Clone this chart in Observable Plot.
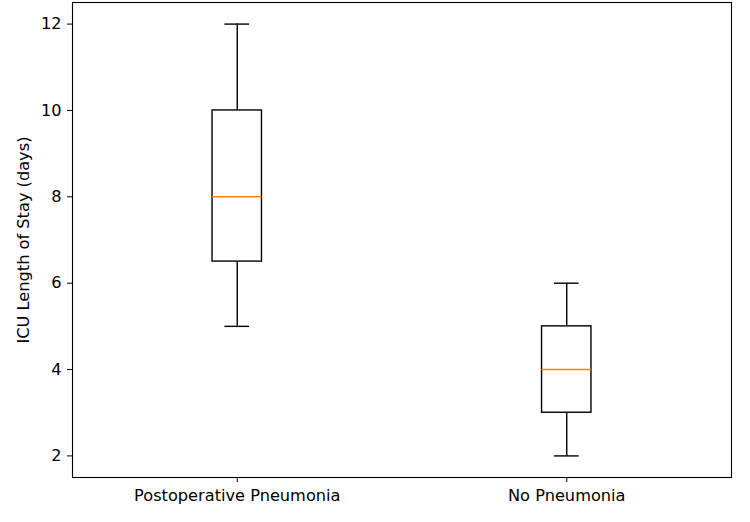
<!DOCTYPE html>
<html><head><meta charset="utf-8">
<script src="https://cdn.jsdelivr.net/npm/d3@7"></script>
<script src="https://cdn.jsdelivr.net/npm/@observablehq/plot@0.6"></script>
<style>body{margin:0;background:#fff;} svg{display:block;}</style>
</head><body><div id="chart"></div>
<script>
const categories = ["Postoperative Pneumonia", "No Pneumonia"];
const whiskerLow = [5, 2];
const q1 = [6.5, 3];
const median = [8, 4];
const q3 = [10, 5];
const whiskerHigh = [12, 6];
const yTicks = [2, 4, 6, 8, 10, 12];

const data = categories.map((c, i) => ({
  cat: c, pos: i + 1, lo: whiskerLow[i], q1: q1[i], med: median[i], q3: q3[i], hi: whiskerHigh[i]
}));
const bw = 0.075, cw = 0.0375;

const plot = Plot.plot({
  width: 750, height: 522,
  marginLeft: 72, marginRight: 19, marginTop: 2, marginBottom: 45,
  style: {fontFamily: "DejaVu Sans", fontSize: "16.2px", color: "#000", background: "#fff"},
  x: {domain: [0.5, 2.5]},
  y: {domain: [1.5, 12.5]},
  marks: [
    Plot.axisX({ticks: [1, 2], tickFormat: d => categories[d - 1], tickSize: 5, tickPadding: 7, label: null, fontSize: 16.2}),
    Plot.axisY({ticks: yTicks, tickSize: 5, tickPadding: 6, label: "ICU Length of Stay (days)", labelAnchor: "center", labelOffset: 55, labelArrow: "none", fontSize: 16.2}),
    Plot.ruleX(data, {x: "pos", y1: "lo", y2: "q1", stroke: "#000", strokeWidth: 1.4}),
    Plot.ruleX(data, {x: "pos", y1: "q3", y2: "hi", stroke: "#000", strokeWidth: 1.4}),
    Plot.ruleY(data, {y: "lo", x1: d => d.pos - cw, x2: d => d.pos + cw, stroke: "#000", strokeWidth: 1.4}),
    Plot.ruleY(data, {y: "hi", x1: d => d.pos - cw, x2: d => d.pos + cw, stroke: "#000", strokeWidth: 1.4}),
    Plot.rect(data, {x1: d => d.pos - bw, x2: d => d.pos + bw, y1: "q1", y2: "q3", fill: "none", stroke: "#000", strokeWidth: 1.4}),
    Plot.ruleY(data, {y: "med", x1: d => d.pos - bw, x2: d => d.pos + bw, stroke: "#ff7f0e", strokeWidth: 1.4}),
    Plot.frame({stroke: "#000", strokeWidth: 1.1})
  ]
});
document.getElementById("chart").appendChild(plot);
</script></body></html>
